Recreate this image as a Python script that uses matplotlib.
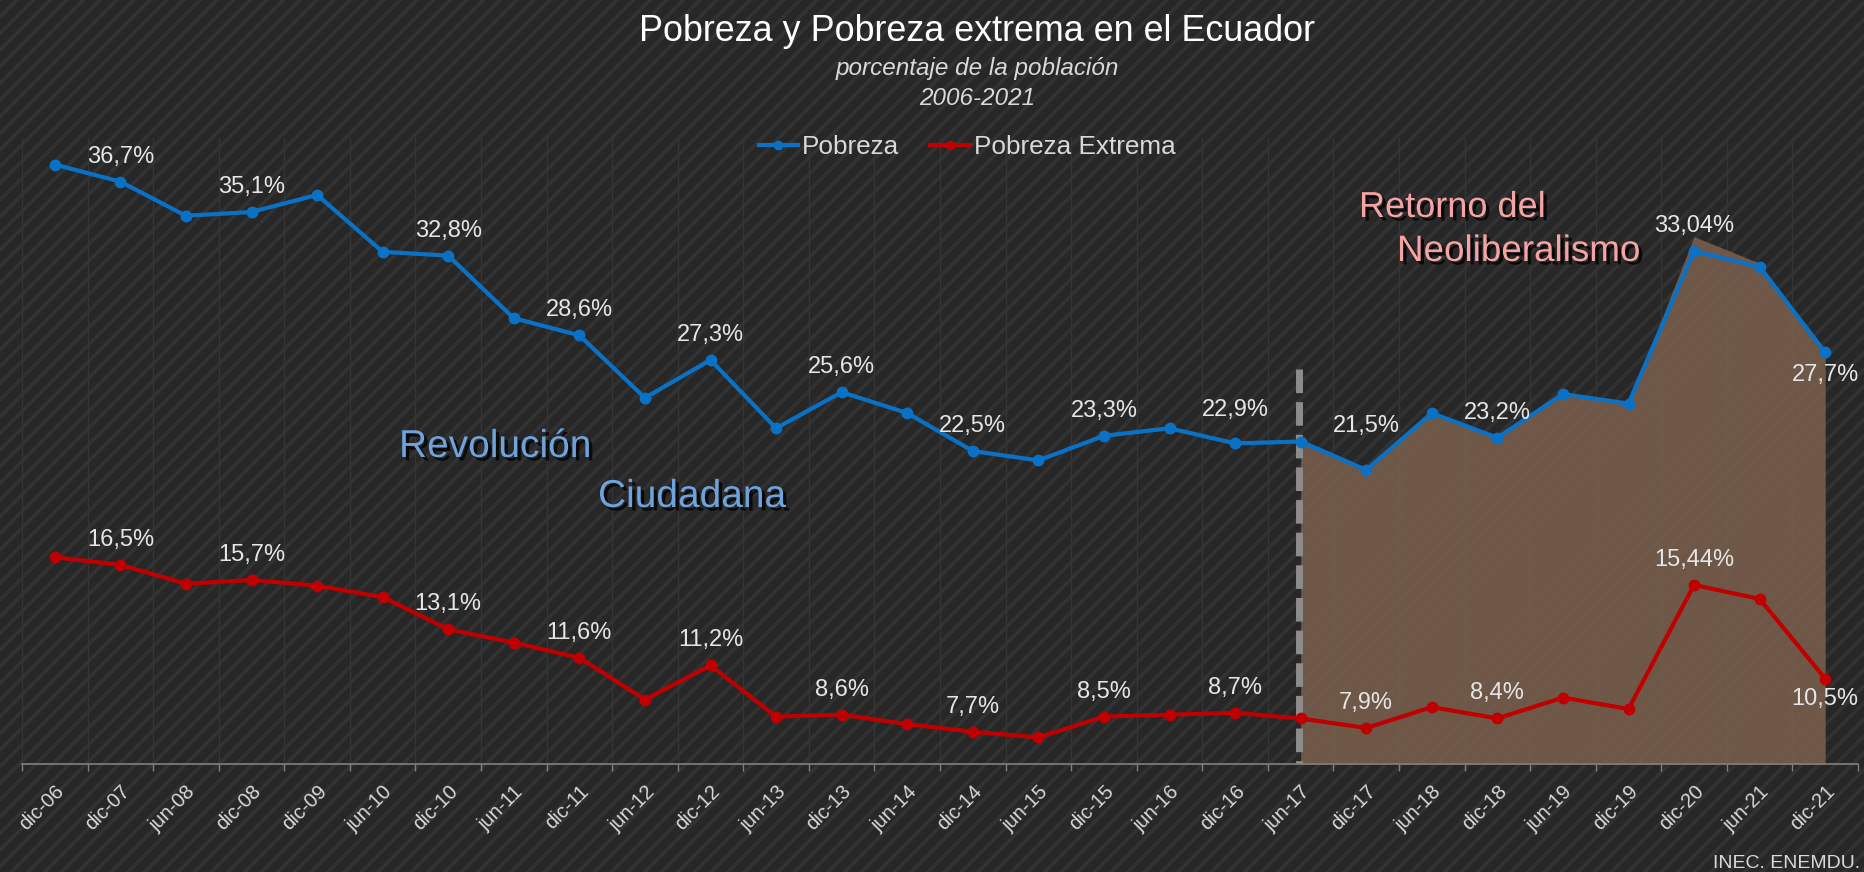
import matplotlib
matplotlib.use("Agg")
import matplotlib.pyplot as plt
import matplotlib.patheffects as pe
from matplotlib.patches import Rectangle
import numpy as np

# datos (INEC, ENEMDU)
fechas = ['dic-06', 'dic-07', 'jun-08', 'dic-08', 'dic-09', 'jun-10', 'dic-10',
          'jun-11', 'dic-11', 'jun-12', 'dic-12', 'jun-13', 'dic-13', 'jun-14',
          'dic-14', 'jun-15', 'dic-15', 'jun-16', 'dic-16', 'jun-17', 'dic-17',
          'jun-18', 'dic-18', 'jun-19', 'dic-19', 'dic-20', 'jun-21', 'dic-21']
pobreza = [37.6, 36.7, 34.9, 35.1, 36.0, 33.0, 32.8, 29.5, 28.6, 25.3, 27.3,
           23.7, 25.6, 24.5, 22.5, 22.0, 23.3, 23.7, 22.9, 23.0, 21.5, 24.5,
           23.2, 25.5, 25.0, 33.04, 32.2, 27.7]
pobreza_extrema = [16.9, 16.5, 15.5, 15.7, 15.4, 14.8, 13.1, 12.4, 11.6, 9.4,
                   11.2, 8.5, 8.6, 8.1, 7.7, 7.4, 8.5, 8.6, 8.7, 8.4, 7.9, 9.0,
                   8.4, 9.5, 8.9, 15.44, 14.7, 10.5]

# etiquetas de datos
idx_etiquetas = [1, 3, 6, 8, 10, 12, 14, 16, 18, 20, 22, 25, 27]
etq_pobreza = ['36,7%', '35,1%', '32,8%', '28,6%', '27,3%', '25,6%', '22,5%',
               '23,3%', '22,9%', '21,5%', '23,2%', '33,04%', '27,7%']
etq_extrema = ['16,5%', '15,7%', '13,1%', '11,6%', '11,2%', '8,6%', '7,7%',
               '8,5%', '8,7%', '7,9%', '8,4%', '15,44%', '10,5%']

# area "Retorno del Neoliberalismo" (jun-17 a dic-21)
idx_retorno = list(range(19, 28))
area_retorno = [23.0, 21.5, 24.5, 23.2, 25.5, 25.0, 33.8, 32.4, 27.7]
corte_tope = 26.8

plt.rcParams['font.family'] = ['Liberation Sans', 'DejaVu Sans']
plt.rcParams['hatch.linewidth'] = 2.6

W, H = 1864, 872
fig = plt.figure(figsize=(W / 100, H / 100), dpi=100)
fig.patch.set_facecolor('#272727')
bg = Rectangle((0, 0), 1, 1, transform=fig.transFigure, facecolor='#272727',
               edgecolor='#323232', hatch='//', linewidth=0, zorder=-10)
fig.patches.append(bg)

ax = fig.add_axes([22 / W, 1 - 764 / H, (1858 - 22) / W, (764 - 138) / H])
ax.patch.set_alpha(0)

x = np.arange(len(fechas))
ax.set_xlim(-0.5, len(fechas) - 0.5)
ax.set_ylim(6, 39)

# area sombreada y linea de corte (de arriba hacia abajo)
ax.fill_between(idx_retorno, area_retorno, 6, color='#7a604d', alpha=0.86,
                linewidth=0, zorder=1)
ax.plot([idx_retorno[0] - 0.03] * 2, [corte_tope, 6], color='#8c8c8c', lw=5,
        linestyle=(0, (3.4, 1.3)), solid_capstyle='butt', zorder=2)

l1, = ax.plot(x, pobreza, color='#0a72c6', lw=3, marker='o', ms=7.5,
              label='Pobreza', zorder=4)
l2, = ax.plot(x, pobreza_extrema, color='#c00000', lw=3, marker='o', ms=7.5,
              label='Pobreza Extrema', zorder=4)

# etiquetas de datos
desp_pob = {18: 24, 20: 32, 27: -16}
desp_ext = {27: -15}
for i, t in zip(idx_etiquetas, etq_pobreza):
    ax.annotate(t, (x[i], pobreza[i]), xytext=(0, desp_pob.get(i, 18)),
                textcoords='offset points', ha='center', va='center',
                fontsize=17, color='#e6e6e6', zorder=5)
for i, t in zip(idx_etiquetas, etq_extrema):
    ax.annotate(t, (x[i], pobreza_extrema[i]), xytext=(0, desp_ext.get(i, 18)),
                textcoords='offset points', ha='center', va='center',
                fontsize=17, color='#e6e6e6', zorder=5)

# ejes
for s in ['top', 'right', 'left']:
    ax.spines[s].set_visible(False)
ax.spines['bottom'].set_color('#808080')
ax.spines['bottom'].set_linewidth(1.2)
ax.set_yticks([])
limites = np.arange(-0.5, len(fechas), 1)
ax.set_xticks(limites, labels=[''] * len(limites))
ax.set_xticks(x, labels=fechas, minor=True)
ax.tick_params(axis='x', which='major', length=5, width=1, color='#808080')
ax.tick_params(axis='x', which='minor', length=0, pad=13, labelsize=14.5,
               labelcolor='#d9d9d9')
for lbl in ax.get_xticklabels(minor=True):
    lbl.set_rotation(45)
    lbl.set_ha('right')
    lbl.set_va('top')
    lbl.set_rotation_mode('anchor')
ax.grid(True, axis='x', which='major', color='#353535', lw=1)
ax.set_axisbelow(True)

# textos
sombra = [pe.SimplePatchShadow(offset=(2.5, -2.5), shadow_rgbFace='black', alpha=0.75),
          pe.Normal()]
ax.text(399 / W, 1 - 457 / H, 'Revolución', transform=fig.transFigure,
        fontsize=28, color='#6fa3dc', ha='left', va='baseline', path_effects=sombra)
ax.text(598 / W, 1 - 507 / H, 'Ciudadana', transform=fig.transFigure,
        fontsize=28, color='#6fa3dc', ha='left', va='baseline', path_effects=sombra)
ax.text(1359 / W, 1 - 217 / H, 'Retorno del', transform=fig.transFigure,
        fontsize=26, color='#f5a3a3', ha='left', va='baseline', path_effects=sombra)
ax.text(1397 / W, 1 - 261 / H, 'Neoliberalismo', transform=fig.transFigure,
        fontsize=26.5, color='#f5a3a3', ha='left', va='baseline', path_effects=sombra)

fig.text(977 / W, 1 - 41 / H, 'Pobreza y Pobreza extrema en el Ecuador',
         ha='center', va='baseline', fontsize=25.8, color='white')
fig.text(977 / W, 1 - 75 / H, 'porcentaje de la población', ha='center',
         va='baseline', fontsize=17.5, color='#d9d9d9', style='italic')
fig.text(977 / W, 1 - 105 / H, '2006-2021', ha='center', va='baseline',
         fontsize=17.5, color='#d9d9d9', style='italic')
fig.text(1860 / W, 1 - 868 / H, 'INEC. ENEMDU.', ha='right', va='baseline',
         fontsize=14, color='#d9d9d9')

fig.legend(handles=[l1, l2], loc='center', bbox_to_anchor=(967 / W, 1 - 147 / H),
           ncol=2, frameon=False, fontsize=18.8, labelcolor='#d9d9d9',
           handlelength=1.5, handletextpad=0.15, columnspacing=1.2,
           markerscale=0.8)

fig.savefig('out.png', dpi=100, facecolor=fig.get_facecolor())
